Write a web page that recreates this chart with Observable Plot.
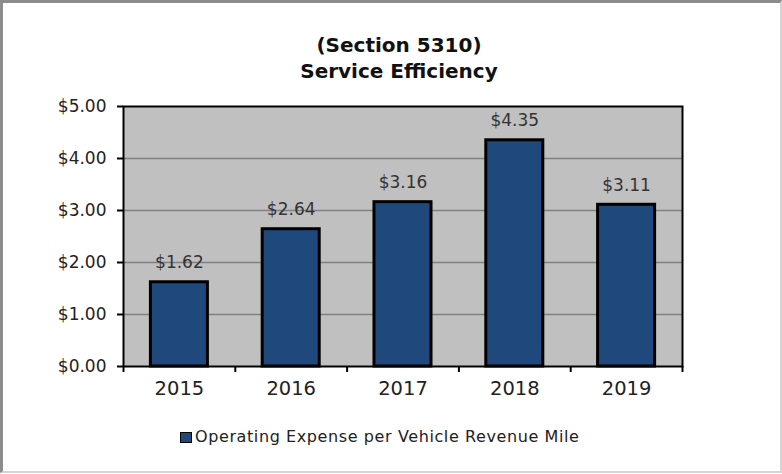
<!DOCTYPE html>
<html><head><meta charset="utf-8">
<script src="https://cdn.jsdelivr.net/npm/d3@7"></script>
<script src="https://cdn.jsdelivr.net/npm/@observablehq/plot@0.6"></script>
<style>
body{margin:0;background:#fff;}
#wrap{position:relative;width:782px;height:474px;overflow:hidden;font-family:"DejaVu Sans",sans-serif;color:#222;}
#border{position:absolute;left:0;top:0;width:782px;height:473px;box-sizing:border-box;border-top:3px solid #8c8c8c;border-left:3px solid #8c8c8c;border-right:2px solid #d4d4d4;border-bottom:2px solid #d4d4d4;}
#title{position:absolute;left:0;top:32px;width:798px;text-align:center;font-weight:bold;font-size:20px;line-height:26px;color:#111;}
#chart{position:absolute;left:0;top:86px;}
#legend{position:absolute;left:180px;top:427px;font-size:16px;line-height:20px;display:flex;align-items:center;color:#222;letter-spacing:0.6px;}
#legend .sw{width:10px;height:9px;background:#1f497d;border:1.5px solid #000;margin-right:3px;}
</style>
</head><body>
<div id="wrap">
  <div id="title">(Section 5310)<br>Service Efficiency</div>
  <div id="chart"></div>
  <div id="legend"><span class="sw"></span><span id="legtext"></span></div>
  <div id="border"></div>
</div>
<script>
const years = ["2015", "2016", "2017", "2018", "2019"];
const values = [1.62, 2.64, 3.16, 4.35, 3.11];
const yTicks = [0, 1, 2, 3, 4, 5];
const gridValues = [1, 2, 3, 4];
const seriesName = "Operating Expense per Vehicle Revenue Mile";

const data = years.map((year, i) => ({year, value: values[i], i}));
const boundaries = d3.range(years.length + 1);
const money = d => "$" + d.toFixed(2);

document.getElementById("legtext").textContent = seriesName;

const chart = Plot.plot({
  width: 782,
  height: 322,
  marginTop: 20,
  marginBottom: 42,
  marginLeft: 123,
  marginRight: 100,
  x: {domain: [0, years.length], axis: null},
  y: {domain: [0, 5], axis: null},
  style: {fontFamily: "DejaVu Sans", background: "transparent"},
  marks: [
    Plot.frame({fill: "#c0c0c0", stroke: "none"}),
    Plot.ruleY(gridValues, {stroke: "#808080", strokeWidth: 1.3}),
    Plot.rectY(data, {x1: d => d.i + 0.245, x2: d => d.i + 0.755, y: "value", fill: "#1f497d", stroke: "#000", strokeWidth: 3}),
    Plot.frame({stroke: "#000", strokeWidth: 2}),
    Plot.axisY(yTicks, {label: null, tickSize: 6, tickPadding: 11, tickFormat: money, fontSize: 17, stroke: "#000", strokeWidth: 2, fill: "#222"}),
    Plot.axisX(boundaries, {label: null, tickSize: 6, tickFormat: () => "", stroke: "#000", strokeWidth: 2}),
    Plot.text(data, {x: d => d.i + 0.5, y: 0, text: "year", lineAnchor: "top", dy: 15, fontSize: 19.5, fill: "#222"}),
    Plot.text(data, {x: d => d.i + 0.5, y: "value", text: d => money(d.value), lineAnchor: "bottom", dy: -14, fontSize: 17, fill: "#333"})
  ]
});
document.getElementById("chart").appendChild(chart);
</script>
</body></html>
